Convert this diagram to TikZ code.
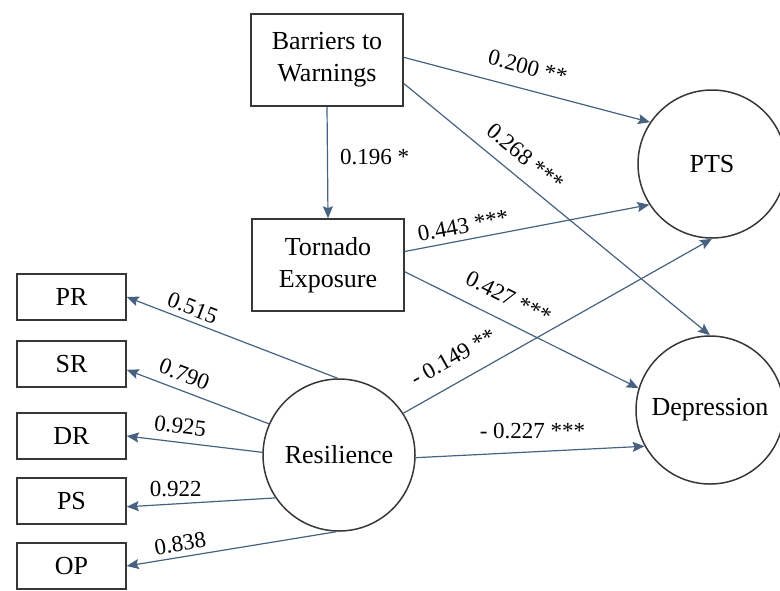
\documentclass[tikz,border=0pt]{standalone}
\usepackage{fontspec}
\setmainfont{Liberation Serif}
\usetikzlibrary{arrows.meta}
\definecolor{SemArrowColor}{RGB}{70,98,128}
\definecolor{SemLineColor}{RGB}{55,55,55}

\begin{document}
\begin{tikzpicture}[x=0.5pt,y=-0.5pt,
  box/.style n args={2}{rectangle,draw=SemLineColor,line width=0.75pt,minimum width=#1,minimum height=#2,inner sep=0pt,align=center,font=\fontsize{13}{16}\selectfont},
  lat/.style={circle,draw=SemLineColor,line width=0.75pt,minimum size=#1,inner sep=0pt,font=\fontsize{13}{16}\selectfont},
  pth/.style={SemArrowColor,line width=0.6pt,-{Stealth[length=6pt,width=5pt,inset=1pt]}},
  lbl/.style={text=black,font=\fontsize{11.5}{13}\selectfont,inner sep=1pt}]
\clip (0,0) rectangle (780,590);
% observed variables
\node[box={76pt}{46pt}](bw) at (327,60) {Barriers to\\Warnings};
\node[box={76pt}{46pt}](te) at (328,265) {Tornado\\Exposure};
\foreach \n/\y in {PR/297,SR/364,DR/436,PS/501,OP/566} {
   \node[box={54.5pt}{23pt}](\n) at (71.5,\y) {\n};
}
% latent variables
\node[lat=74pt](pts) at (712,164) {PTS};
\node[lat=74pt](dep) at (710,410) {Depression};
\node[lat=76pt](res) at (339,455) {Resilience};
% structural paths
\draw[pth] (bw.south) -- (te.north) node[lbl,pos=0.45,right=5pt]{0.196 *};
\draw[pth] (bw.2) -- (pts.146) node[lbl,pos=0.48,sloped,above=6pt]{0.200 **};
\draw[pth] (bw.-17) -- (dep.90) node[lbl,pos=0.355,sloped,above=5pt]{0.268 ***};
\draw[pth] (te.10) -- (pts.213) node[lbl,pos=0.25,sloped,above=2pt]{0.443 ***};
\draw[pth] (te.-5) -- (dep.163) node[lbl,pos=0.4,sloped,above=6.5pt]{0.427 ***};
\draw[pth] (res.33) -- (pts.270) node[lbl,pos=0.2,sloped,above=7pt]{- 0.149 **};
\draw[pth] (res.-2) -- (dep.209) node[lbl,pos=0.51,above=5pt]{- 0.227 ***};
% loadings
\draw[pth] (res.91) -- (PR.east) node[lbl,pos=0.71,sloped,above=1.5pt]{0.515};
\draw[pth] (res.156) -- (SR.-6) node[lbl,pos=0.635,sloped,above=3pt]{0.790};
\draw[pth] (res.178) -- (DR.east) node[lbl,pos=0.62,sloped,above=3pt]{0.925};
\draw[pth] (res.214) -- (PS.-6) node[lbl,pos=0.67,above=2pt]{0.922};
\draw[pth] (res.268) -- (OP.east) node[lbl,pos=0.735,sloped,above=1.5pt]{0.838};
\end{tikzpicture}
\end{document}
